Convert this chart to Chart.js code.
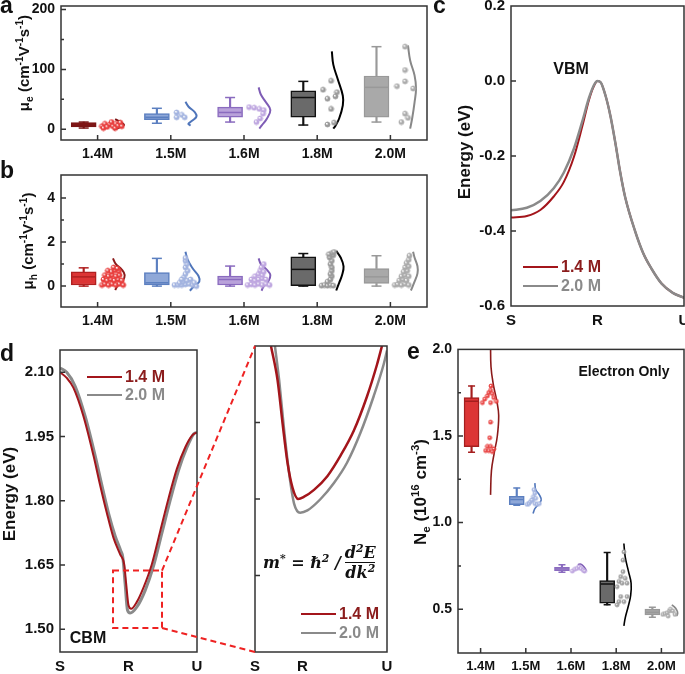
<!DOCTYPE html>
<html>
<head>
<meta charset="utf-8">
<script src="https://cdn.jsdelivr.net/npm/chart.js@4.4.1/dist/chart.umd.min.js"></script>
<style>
body { margin: 0; width: 685px; height: 674px; overflow: hidden; background: #fff; position: relative;
  font-family: 'Liberation Sans', Arial, sans-serif; color: #111; }
canvas { position: absolute; }
.t { position: absolute; font-weight: bold; white-space: nowrap; line-height: 1; }
.c { position: absolute; font-weight: bold; white-space: nowrap; transform: translate(-50%, -50%); }
.rot { position: absolute; font-weight: bold; white-space: nowrap; transform: translate(-50%, -50%) rotate(-90deg); }
sup, sub { font-size: 68%; line-height: 0; }
.leg { position: absolute; display: flex; align-items: center; font-weight: bold; font-size: 16px; line-height: 18px; }
.leg i { display: inline-block; width: 35px; height: 2.5px; margin-right: 3px; }
.fx { position: absolute; display: flex; align-items: center; font: italic bold 16px 'DejaVu Serif', 'Liberation Serif', serif; }
.fr { display: inline-flex; flex-direction: column; align-items: center; margin-left: 4px; }
.fr span + span { border-top: 1.5px solid #111; }
</style>
</head>
<body>
<canvas id="ca" width="445" height="175" style="left:0;top:-10px"></canvas>
<canvas id="cb" width="445" height="175" style="left:0;top:160px"></canvas>
<canvas id="cc" width="240" height="340" style="left:460px;top:-10px"></canvas>
<canvas id="cd" width="195" height="340" style="left:15px;top:335px"></canvas>
<canvas id="ci" width="155" height="340" style="left:244px;top:335px"></canvas>
<canvas id="ce" width="280" height="340" style="left:420px;top:335px"></canvas>
<canvas id="over" width="685" height="674" style="left:0;top:0"></canvas>

<div class="t" style="left:0;top:-6px;font-size:23px">a</div>
<div class="t" style="left:0;top:159px;font-size:23px">b</div>
<div class="t" style="left:433px;top:-6px;font-size:23px">c</div>
<div class="t" style="left:0;top:342px;font-size:23px">d</div>
<div class="t" style="left:407px;top:340px;font-size:23px">e</div>

<div class="rot" style="left:23px;top:63px;font-size:15px">μ<sub>e</sub> (cm<sup>-1</sup>V<sup>-1</sup>s<sup>-1</sup>)</div>
<div class="rot" style="left:27px;top:241px;font-size:15px">μ<sub>h</sub> (cm<sup>-1</sup>V<sup>-1</sup>s<sup>-1</sup>)</div>
<div class="rot" style="left:465px;top:152px;font-size:17px">Energy (eV)</div>
<div class="rot" style="left:10px;top:494px;font-size:17px">Energy (eV)</div>
<div class="rot" style="left:421px;top:492px;font-size:17px">N<sub>e</sub> (10<sup>16</sup> cm<sup>-3</sup>)</div>

<div class="c" style="left:571px;top:69px;font-size:16px">VBM</div>
<div class="c" style="left:88px;top:638px;font-size:16px">CBM</div>
<div class="c" style="left:624px;top:371px;font-size:14px">Electron Only</div>

<div class="leg" style="left:523px;top:258px;color:#8b1c1c"><i style="background:#a3151b"></i>1.4 M</div>
<div class="leg" style="left:523px;top:277px;color:#8a8a8a"><i style="background:#8a8a8a"></i>2.0 M</div>
<div class="leg" style="left:87px;top:368px;color:#8b1c1c"><i style="background:#a3151b"></i>1.4 M</div>
<div class="leg" style="left:87px;top:386px;color:#8a8a8a"><i style="background:#8a8a8a"></i>2.0 M</div>
<div class="leg" style="left:301px;top:605px;color:#8b1c1c"><i style="background:#a3151b"></i>1.4 M</div>
<div class="leg" style="left:301px;top:624px;color:#8a8a8a"><i style="background:#8a8a8a"></i>2.0 M</div>

<div class="fx" style="left:263px;top:540px;height:44px">
  <span>m<sup>*</sup> = ℏ<sup>2</sup> /</span>
  <span class="fr"><span>d<sup>2</sup>E</span><span>dk<sup>2</sup></span></span>
</div>

<script>
const groups = ['1.4M', '1.5M', '1.6M', '1.8M', '2.0M'];
const catTicks = [0, 1, 2, 3, 4];
const kLabels = ['S', 'R', 'U'];

// a: electron mobility
const aYTicks = [0, 100, 200];
const aYMinor = [50, 150];
const aYLabels = ['0', '100', '200'];
const aMin = [2, 10, 12, 7, 12];
const aQ1 = [4, 16, 20, 20, 20];
const aMed = [7, 20, 28, 53, 70];
const aQ3 = [11, 26, 37, 64, 89];
const aMax = [12, 35, 53, 80, 138];
const aPts = [
  [[0.06, 5], [0.08, 2], [0.10, 9], [0.13, 4], [0.17, 8], [0.19, 12], [0.21, 5], [0.24, 2], [0.25, 9], [0.28, 6], [0.31, 11], [0.33, 5]],
  [[0.08, 28], [0.08, 20], [0.15, 24], [0.19, 20]],
  [[0.07, 37], [0.14, 36], [0.21, 34], [0.27, 32], [0.26, 26], [0.22, 18], [0.17, 12]],
  [[0.08, 66], [0.19, 81], [0.27, 62], [0.14, 51], [0.25, 55], [0.19, 34], [0.14, 8], [0.23, 11]],
  [[0.09, 72], [0.2, 99], [0.2, 80], [0.31, 68], [0.2, 138], [0.2, 26], [0.24, 19], [0.15, 12]]
];
const aCurve = [
  [[0.22, -1], [0.28, 2], [0.36, 7], [0.31, 12], [0.24, 17]],
  [[0.2, 46], [0.24, 38], [0.33, 28], [0.35, 21], [0.29, 14], [0.24, 9], [0.27, 6]],
  [[0.2, 70], [0.23, 58], [0.3, 45], [0.36, 32], [0.31, 17], [0.24, 6], [0.21, 1]],
  [[0.2, 130], [0.22, 108], [0.28, 84], [0.35, 56], [0.35, 40], [0.3, 18], [0.25, 6], [0.22, 1]],
  [[0.24, 140], [0.27, 115], [0.33, 90], [0.35, 68], [0.33, 45], [0.3, 20], [0.27, 1]]
];

// b: hole mobility
const bYTicks = [0, 2, 4];
const bYMinor = [1, 3];
const bYLabels = ['0', '2', '4'];
const bMin = [0, 0, 0, 0, 0];
const bQ1 = [0.05, 0.05, 0.05, 0.02, 0.12];
const bMed = [0.42, 0.15, 0.3, 0.76, 0.42];
const bQ3 = [0.65, 0.62, 0.45, 1.33, 0.8];
const bMax = [0.83, 1.26, 0.91, 1.48, 1.38];
const bPts = [
  [[0.06, 0.05], [0.1, 0.1], [0.15, 0.05], [0.2, 0.1], [0.25, 0.05], [0.3, 0.1], [0.35, 0.05], [0.08, 0.3], [0.13, 0.25], [0.18, 0.3], [0.23, 0.25], [0.28, 0.3], [0.33, 0.25], [0.1, 0.5], [0.15, 0.45], [0.2, 0.5], [0.25, 0.45], [0.3, 0.5], [0.14, 0.7], [0.19, 0.65], [0.24, 0.72], [0.29, 0.68], [0.22, 0.85], [0.27, 0.8]],
  [[0.05, 0.05], [0.1, 0.05], [0.15, 0.05], [0.2, 0.08], [0.25, 0.1], [0.3, 0.05], [0.35, 0.0], [0.12, 0.15], [0.17, 0.2], [0.22, 0.25], [0.18, 0.4], [0.2, 0.55], [0.23, 0.7], [0.2, 0.85], [0.22, 1.0], [0.2, 1.15], [0.2, 1.28], [0.27, 0.3], [0.32, 0.15], [0.15, 0.3]],
  [[0.05, 0.05], [0.1, 0.08], [0.15, 0.05], [0.2, 0.1], [0.25, 0.05], [0.3, 0.1], [0.35, 0.05], [0.1, 0.3], [0.15, 0.25], [0.2, 0.3], [0.25, 0.35], [0.3, 0.3], [0.15, 0.45], [0.2, 0.55], [0.25, 0.5], [0.22, 0.7], [0.27, 0.65], [0.24, 0.85], [0.27, 1.0]],
  [[0.06, 0.02], [0.1, 0.05], [0.14, 0.02], [0.18, 0.05], [0.22, 0.02], [0.14, 0.2], [0.18, 0.3], [0.2, 0.45], [0.18, 0.55], [0.2, 0.7], [0.2, 0.85], [0.18, 1.0], [0.2, 1.15], [0.17, 1.3], [0.22, 1.4], [0.2, 1.5], [0.23, 1.55], [0.16, 1.45]],
  [[0.06, 0.05], [0.1, 0.08], [0.15, 0.05], [0.2, 0.1], [0.25, 0.05], [0.12, 0.25], [0.17, 0.3], [0.22, 0.25], [0.15, 0.45], [0.2, 0.5], [0.25, 0.45], [0.18, 0.65], [0.23, 0.7], [0.2, 0.85], [0.25, 0.9], [0.22, 1.05], [0.25, 1.2], [0.26, 1.38]]
];
const bCurve = [
  [[0.21, 1.26], [0.25, 1.0], [0.33, 0.75], [0.37, 0.5], [0.34, 0.2], [0.27, 0], [0.24, -0.18]],
  [[0.2, 1.56], [0.23, 1.2], [0.3, 0.8], [0.38, 0.45], [0.39, 0.2], [0.32, 0], [0.26, -0.21]],
  [[0.2, 1.26], [0.23, 1.0], [0.31, 0.75], [0.36, 0.5], [0.33, 0.2], [0.27, 0], [0.24, -0.21]],
  [[0.26, 1.6], [0.32, 1.3], [0.36, 0.9], [0.34, 0.5], [0.3, 0.15], [0.26, -0.2]],
  [[0.31, 1.56], [0.33, 1.3], [0.37, 0.9], [0.37, 0.58], [0.33, 0.2], [0.28, -0.2]]
];

// c: valence band (S-R-U)
const cYTicks = [-0.6, -0.4, -0.2, 0.0, 0.2];
const cYLabels = ['-0.6', '-0.4', '-0.2', '0.0', '0.2'];
const cK = [0, 0.183, 0.339, 0.494, 0.611, 0.728, 0.825, 0.903, 0.961, 1.0, 1.038, 1.094, 1.151, 1.21, 1.26, 1.32, 1.434, 1.53, 1.623, 1.74, 1.87, 2.0];
const cE14 = [-0.364, -0.36, -0.344, -0.308, -0.269, -0.202, -0.12, -0.049, -0.012, 0, -0.004, -0.04, -0.095, -0.17, -0.24, -0.31, -0.4, -0.46, -0.5, -0.54, -0.565, -0.578];
const cE20 = [-0.345, -0.338, -0.32, -0.286, -0.244, -0.18, -0.107, -0.044, -0.01, 0, -0.004, -0.04, -0.095, -0.17, -0.24, -0.31, -0.4, -0.46, -0.5, -0.54, -0.565, -0.578];

// d: conduction band
const dYTicks = [1.50, 1.65, 1.80, 1.95, 2.10];
const dYLabels = ['1.50', '1.65', '1.80', '1.95', '2.10'];
const dK14 = [0, 0.098, 0.195, 0.341, 0.488, 0.585, 0.683, 0.78, 0.878, 0.937, 0.966, 1.0, 1.039, 1.122, 1.22, 1.341, 1.463, 1.585, 1.707, 1.829, 1.927, 2.0];
const dE14 = [2.10, 2.087, 2.064, 1.998, 1.906, 1.837, 1.772, 1.714, 1.675, 1.652, 1.606, 1.556, 1.548, 1.564, 1.598, 1.652, 1.729, 1.806, 1.875, 1.925, 1.952, 1.96];
const dK20 = [0, 0.098, 0.22, 0.366, 0.512, 0.61, 0.707, 0.805, 0.888, 0.917, 0.951, 0.985, 1.024, 1.122, 1.244, 1.366, 1.488, 1.61, 1.732, 1.854, 1.951, 2.0];
const dE20 = [2.11, 2.10, 2.068, 1.998, 1.906, 1.837, 1.772, 1.718, 1.683, 1.668, 1.606, 1.545, 1.538, 1.552, 1.591, 1.648, 1.725, 1.802, 1.872, 1.925, 1.956, 1.96];
const zoomBox = { k0: 0.774, k1: 1.489, e0: 1.503, e1: 1.637 };

// d inset: magnified CBM
const iXTicks = [0, 0.36, 1];
const iYTicks = [1.5365, 1.570, 1.6035];
const iK14 = [0.121, 0.171, 0.209, 0.246, 0.284, 0.327, 0.372, 0.447, 0.548, 0.648, 0.749, 0.849, 0.925, 0.962];
const iE14 = [1.637, 1.622, 1.603, 1.586, 1.575, 1.570, 1.571, 1.574, 1.580, 1.589, 1.600, 1.615, 1.629, 1.637];
const iK20 = [0.151, 0.183, 0.221, 0.259, 0.296, 0.342, 0.397, 0.497, 0.598, 0.698, 0.799, 0.899, 0.975, 1.0];
const iE20 = [1.637, 1.622, 1.600, 1.581, 1.568, 1.564, 1.565, 1.570, 1.577, 1.586, 1.599, 1.615, 1.629, 1.635];

// e: electron density
const eYTicks = [0.5, 1.0, 1.5, 2.0];
const eYMinor = [0.75, 1.25, 1.75];
const eYLabels = ['0.5', '1.0', '1.5', '2.0'];
const eMin = [1.406, 1.10, 0.713, 0.525, 0.454];
const eQ1 = [1.439, 1.103, 0.722, 0.535, 0.467];
const eMed = [1.70, 1.134, 0.732, 0.646, 0.483];
const eQ3 = [1.722, 1.152, 0.741, 0.665, 0.50];
const eMax = [1.789, 1.199, 0.757, 0.828, 0.511];
const ePts = [
  [[0.04, 1.693], [0.09, 1.713], [0.15, 1.732], [0.18, 1.751], [0.22, 1.764], [0.23, 1.789], [0.29, 1.722], [0.35, 1.70], [0.22, 1.693], [0.26, 1.745], [0.22, 1.58], [0.2, 1.49], [0.15, 1.44], [0.22, 1.44], [0.29, 1.425], [0.11, 1.416], [0.18, 1.416], [0.26, 1.41]],
  [[0.03, 1.105], [0.07, 1.11], [0.1, 1.12], [0.15, 1.13], [0.2, 1.11], [0.25, 1.105], [0.3, 1.11], [0.17, 1.15], [0.2, 1.17], [0.18, 1.19], [0.22, 1.14], [0.13, 1.13]],
  [[0.03, 0.72], [0.08, 0.73], [0.13, 0.735], [0.18, 0.745], [0.22, 0.735], [0.27, 0.725], [0.3, 0.72]],
  [[0.17, 0.831], [0.15, 0.783], [0.15, 0.717], [0.1, 0.688], [0.06, 0.66], [0.02, 0.63], [0.13, 0.65], [0.2, 0.678], [0.24, 0.65], [0.1, 0.573], [0.06, 0.544], [0.02, 0.525], [0.17, 0.544], [0.24, 0.573]],
  [[0.03, 0.47], [0.08, 0.475], [0.13, 0.48], [0.18, 0.49], [0.2, 0.5], [0.25, 0.49], [0.3, 0.47], [0.15, 0.46]]
];
const eCurve = [
  [[0.22, 2.05], [0.23, 1.9], [0.28, 1.8], [0.36, 1.7], [0.4, 1.62], [0.37, 1.5], [0.3, 1.4], [0.24, 1.3], [0.22, 1.16]],
  [[0.2, 1.228], [0.22, 1.19], [0.3, 1.16], [0.34, 1.13], [0.26, 1.1], [0.2, 1.08], [0.16, 1.052]],
  [[0.15, 0.757], [0.22, 0.76], [0.3, 0.74], [0.33, 0.725], [0.28, 0.71]],
  [[0.17, 0.879], [0.2, 0.8], [0.27, 0.72], [0.33, 0.65], [0.32, 0.58], [0.27, 0.52], [0.2, 0.45], [0.17, 0.404]],
  [[0.23, 0.525], [0.28, 0.515], [0.34, 0.495], [0.36, 0.477], [0.34, 0.46]]
];

const RED = '#a3151b', GREY = '#8a8a8a';
const colA = {
  fill: ['#8e1b1b', '#8fa8d8', '#b9a2da', '#6a6a6a', '#a9a9a9'],
  line: ['#7a1515', '#5b7fc0', '#8a6bbf', '#111111', '#999999'],
  pt: ['#e8403f', '#a3b4e0', '#bea6e0', '#9a9a9a', '#ababab'],
  curve: ['#7a1515', '#4f75ba', '#7e5cb5', '#000000', '#888888']
};
const colB = Object.assign({}, colA, {
  fill: ['#dc3535', '#8fa8d8', '#b9a2da', '#6a6a6a', '#a9a9a9'],
  line: ['#b02020', '#5b7fc0', '#8a6bbf', '#111111', '#999999'],
  curve: ['#8b1a1a', '#4f75ba', '#7e5cb5', '#000000', '#888888']
});
const colE = Object.assign({}, colB, {
  line: ['#a51e1e', '#5b7fc0', '#8a6bbf', '#111111', '#999999']
});

Chart.defaults.font.family = "'Liberation Sans', Arial, sans-serif";
Chart.defaults.font.weight = 'bold';
Chart.defaults.color = '#111';

function ball(color, r) {
  const c = document.createElement('canvas');
  const s = Math.ceil(r * 2 + 2);
  c.width = c.height = s;
  const g = c.getContext('2d');
  const m = s / 2;
  const gr = g.createRadialGradient(m - r * 0.35, m - r * 0.4, r * 0.1, m, m, r);
  gr.addColorStop(0, '#ffffff');
  gr.addColorStop(0.55, color);
  gr.addColorStop(1, color);
  g.fillStyle = gr;
  g.beginPath(); g.arc(m, m, r, 0, Math.PI * 2); g.fill();
  g.strokeStyle = color; g.lineWidth = 0.8; g.stroke();
  return c;
}

// box frame + inward ticks, plus the dashed zoom box on panel d
const frame = {
  id: 'frame',
  afterDatasetsDraw(chart, args, opts) {
    const { ctx, chartArea: a } = chart;
    const xs = chart.scales.x, ys = chart.scales.y;
    ctx.save();
    ctx.strokeStyle = '#333';
    ctx.lineWidth = 1.5;
    ctx.strokeRect(a.left, a.top, a.right - a.left, a.bottom - a.top);
    ctx.beginPath();
    if (!opts.noX) {
      xs.ticks.forEach(t => {
        const x = xs.getPixelForValue(t.value);
        if (x > a.left + 2 && x < a.right - 2) { ctx.moveTo(x, a.bottom); ctx.lineTo(x, a.bottom - 5); }
      });
    }
    ys.ticks.forEach(t => {
      const y = ys.getPixelForValue(t.value);
      if (y > a.top + 2 && y < a.bottom - 2) { ctx.moveTo(a.left, y); ctx.lineTo(a.left + 5, y); }
    });
    (opts.minorY || []).forEach(v => {
      const y = ys.getPixelForValue(v);
      ctx.moveTo(a.left, y); ctx.lineTo(a.left + 3, y);
    });
    ctx.stroke();
    if (opts.box) {
      const b = opts.box;
      const x0 = xs.getPixelForValue(b.k0), x1 = xs.getPixelForValue(b.k1);
      const y0 = ys.getPixelForValue(b.e1), y1 = ys.getPixelForValue(b.e0);
      ctx.strokeStyle = '#ee2222';
      ctx.lineWidth = 2;
      ctx.setLineDash([6, 4]);
      ctx.strokeRect(x0, y0, x1 - x0, y1 - y0);
    }
    ctx.restore();
  }
};

function axis(min, max, ticks, fit, labels, size) {
  return {
    type: 'linear', min, max, offset: false,
    afterBuildTicks: s => { s.ticks = ticks.map(v => ({ value: v })); },
    afterFit: s => { if (s.isHorizontal()) s.height = fit; else s.width = fit; },
    ticks: {
      display: !!labels, autoSkip: false, maxRotation: 0, padding: 6, color: '#111',
      font: { size, weight: 'bold' }, callback: (v, i) => labels ? labels[i] : ''
    },
    grid: { display: false, drawTicks: false, offset: false },
    border: { display: false }
  };
}

function make(id, pad, datasets, x, y, frameOpts) {
  return new Chart(document.getElementById(id), {
    type: 'scatter',
    data: { datasets },
    options: {
      responsive: false, animation: false, events: [],
      layout: { padding: Object.assign({ left: 0, bottom: 0 }, pad) },
      plugins: { legend: { display: false }, tooltip: { enabled: false }, frame: frameOpts || {} },
      scales: { x, y }
    },
    plugins: [frame]
  });
}

function boxPanel(st, pts, curves, col, o) {
  const xs = groups.map((g, i) => i + o.shift);
  const ds = [];
  ds.push({ type: 'bar', grouped: false, order: 6, barThickness: 1.5, backgroundColor: col.line,
    data: xs.map((x, i) => ({ x, y: [st.min[i], st.q1[i]] })) });
  ds.push({ type: 'bar', grouped: false, order: 6, barThickness: 1.5, backgroundColor: col.line,
    data: xs.map((x, i) => ({ x, y: [st.q3[i], st.max[i]] })) });
  ds.push({ type: 'bar', grouped: false, order: 4, barThickness: o.bw, backgroundColor: col.fill,
    borderColor: col.line, borderWidth: 1.5, borderSkipped: false,
    data: xs.map((x, i) => ({ x, y: [st.q1[i], st.q3[i]] })) });
  ds.push({ type: 'scatter', order: 3, pointStyle: 'line', pointRadius: o.bw / 2 - 1,
    pointBorderWidth: 1.5, pointBorderColor: col.line,
    data: xs.map((x, i) => ({ x, y: st.med[i] })) });
  ds.push({ type: 'scatter', order: 5, pointStyle: 'line', pointRadius: o.cap,
    pointBorderWidth: 1.5, pointBorderColor: col.line.concat(col.line),
    data: xs.map((x, i) => ({ x, y: st.max[i] })).concat(xs.map((x, i) => ({ x, y: st.min[i] }))) });
  groups.forEach((g, gi) => {
    ds.push({ type: 'scatter', order: 1, pointStyle: ball(col.pt[gi], o.r),
      data: pts[gi].map(([off, v]) => ({ x: gi + off, y: v })) });
    ds.push({ type: 'line', order: 2, borderColor: col.curve[gi], borderWidth: o.lw, pointRadius: 0,
      tension: 0.4, fill: false, data: curves[gi].map(([off, v]) => ({ x: gi + off, y: v })) });
  });
  return ds;
}

function bandLine(ks, es, color, width, order) {
  return { type: 'line', order, borderColor: color, borderWidth: width, pointRadius: 0,
    cubicInterpolationMode: 'monotone', fill: false,
    data: ks.map((k, i) => ({ x: k, y: es[i] })) };
}

// a
make('ca', { top: 16, right: 18 },
  boxPanel({ min: aMin, q1: aQ1, med: aMed, q3: aQ3, max: aMax }, aPts, aCurve, colA,
    { shift: -0.19, bw: 25, cap: 5, r: 2.5, lw: 2 }),
  axis(-0.5, 4.5, catTicks, 25, groups, 14),
  axis(-18, 206, aYTicks, 61, aYLabels, 14),
  { minorY: aYMinor });

// b
make('cb', { top: 15, right: 18 },
  boxPanel({ min: bMin, q1: bQ1, med: bMed, q3: bQ3, max: bMax }, bPts, bCurve, colB,
    { shift: -0.19, bw: 25, cap: 5, r: 2.5, lw: 2 }),
  axis(-0.5, 4.5, catTicks, 28, groups, 14),
  axis(-0.95, 5.05, bYTicks, 61, bYLabels, 14),
  { minorY: bYMinor });

// c
make('cc', { top: 16, right: 16 },
  [bandLine(cK, cE20, GREY, 2.5, 1), bandLine(cK, cE14, RED, 2, 2)],
  axis(0, 2, [0, 1, 2], 24, kLabels, 15),
  axis(-0.6, 0.2, cYTicks, 51, cYLabels, 15),
  { noX: true });

// d
const chartD = make('cd', { top: 12, right: 13 },
  [bandLine(dK20, dE20, GREY, 3, 2), bandLine(dK14, dE14, RED, 2, 1)],
  axis(0, 2, [0, 1, 2], 23, kLabels, 15),
  axis(1.447, 2.152, dYTicks, 45, dYLabels, 15),
  { box: zoomBox, noX: true });

// d inset
const chartI = make('ci', { top: 11, right: 12 },
  [bandLine(iK20, iE20, GREY, 2.5, 2), bandLine(iK14, iE14, RED, 2.5, 1)],
  axis(0, 1, iXTicks, 23, kLabels, 15),
  axis(1.503, 1.637, iYTicks, 10, null, 15),
  { noX: true });

// e
make('ce', { top: 12, right: 16 },
  boxPanel({ min: eMin, q1: eQ1, med: eMed, q3: eQ3, max: eMax }, ePts, eCurve, colE,
    { shift: -0.2, bw: 15, cap: 3.5, r: 2, lw: 1.6 }),
  axis(-0.5, 4.5, catTicks, 22, groups, 13),
  axis(0.247, 2.0, eYTicks, 38, eYLabels, 14),
  { minorY: eYMinor });

// dashed connectors from the CBM box to the inset
(function () {
  const cd = document.getElementById('cd'), ci = document.getElementById('ci');
  const o = document.getElementById('over').getContext('2d');
  const xs = chartD.scales.x, ys = chartD.scales.y, a = chartI.chartArea;
  const rx = cd.offsetLeft + xs.getPixelForValue(zoomBox.k1);
  const rTop = cd.offsetTop + ys.getPixelForValue(zoomBox.e1);
  const rBot = cd.offsetTop + ys.getPixelForValue(zoomBox.e0);
  o.strokeStyle = '#ee2222';
  o.lineWidth = 2;
  o.setLineDash([6, 4]);
  o.beginPath();
  o.moveTo(rx, rTop); o.lineTo(ci.offsetLeft + a.left, ci.offsetTop + a.top);
  o.moveTo(rx, rBot); o.lineTo(ci.offsetLeft + a.left, ci.offsetTop + a.bottom);
  o.stroke();
})();
</script>
</body>
</html>
